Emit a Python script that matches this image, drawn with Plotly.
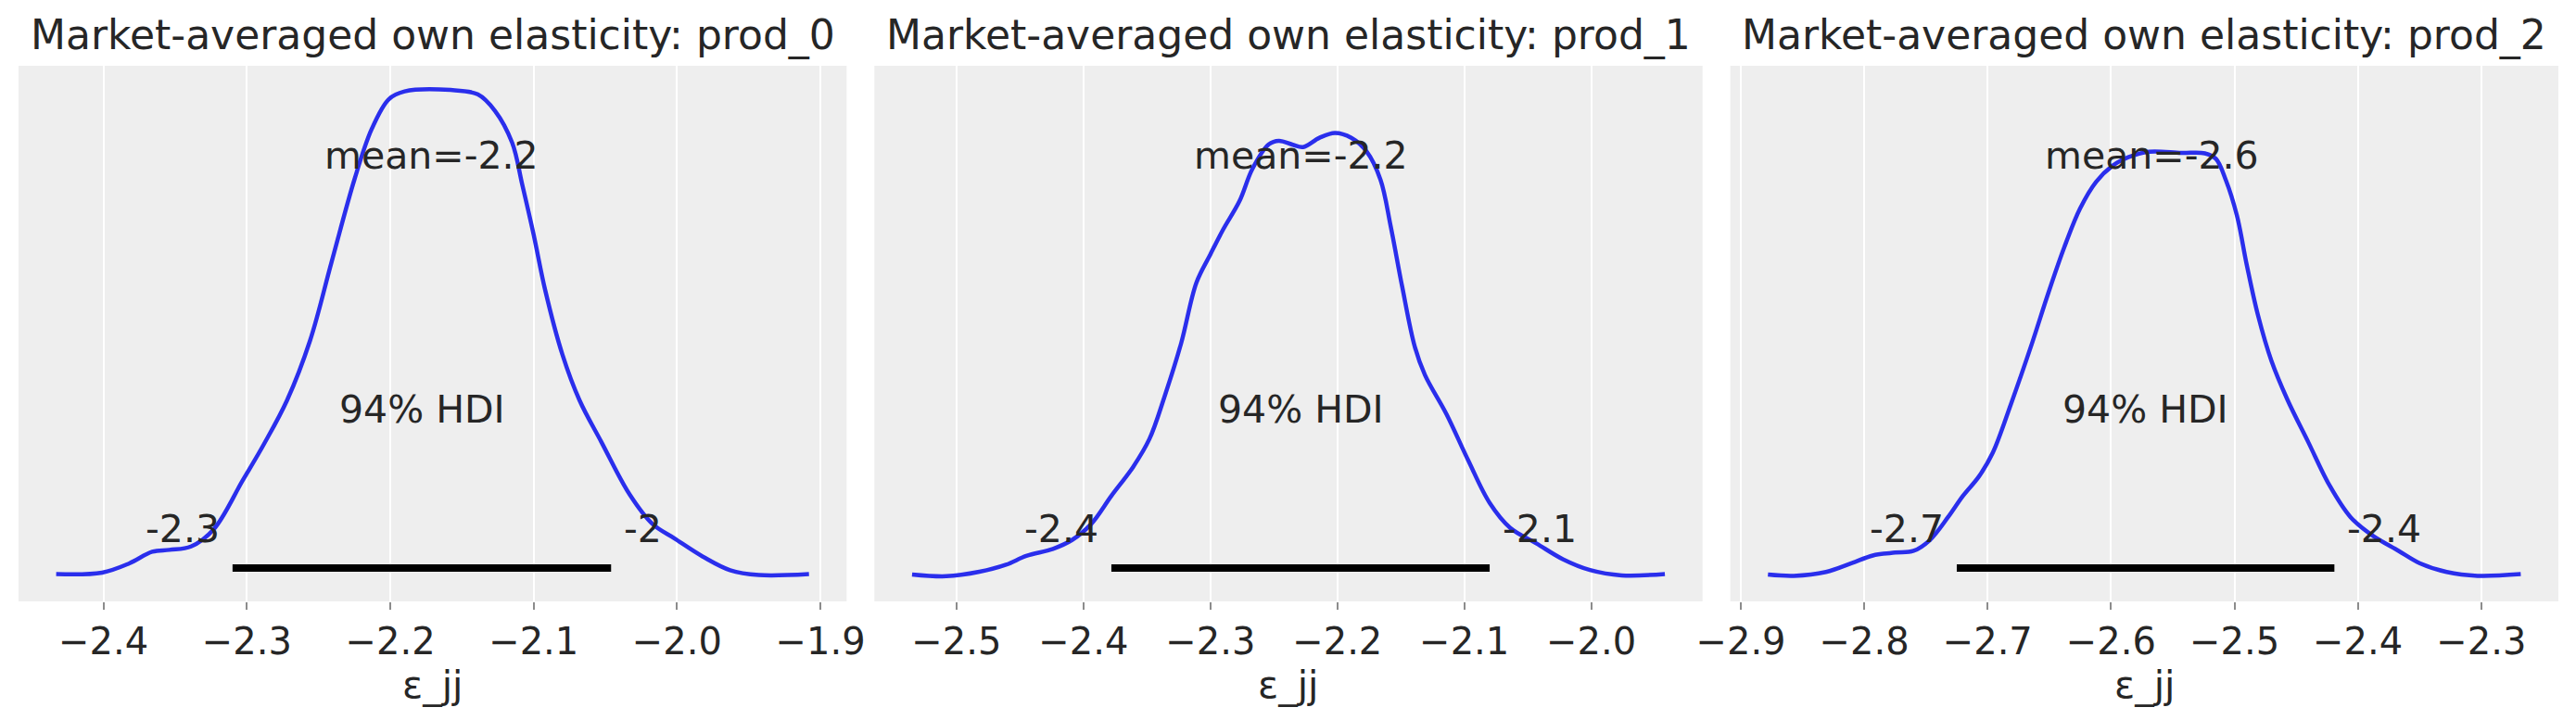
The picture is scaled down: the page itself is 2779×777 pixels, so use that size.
import plotly.graph_objects as go
from plotly.subplots import make_subplots

# posterior KDE of market-averaged own elasticity, relative density
products = ["prod_0", "prod_1", "prod_2"]

eps_0 = [-2.433, -2.401, -2.382, -2.366, -2.354, -2.339, -2.323, -2.303, -2.288, -2.272,
         -2.256, -2.241, -2.225, -2.213, -2.201, -2.190, -2.158, -2.139, -2.127, -2.115,
         -2.108, -2.100, -2.092, -2.080, -2.068, -2.053, -2.033, -2.017, -2.002, -1.982,
         -1.963, -1.943, -1.908]
dens_0 = [0.000, 0.003, 0.022, 0.046, 0.050, 0.057, 0.093, 0.193, 0.269, 0.359,
          0.482, 0.644, 0.815, 0.919, 0.981, 0.997, 1.000, 0.991, 0.957, 0.891,
          0.805, 0.701, 0.587, 0.454, 0.359, 0.274, 0.164, 0.103, 0.074, 0.036,
          0.008, -0.002, 0.000]

eps_1 = [-2.535, -2.508, -2.482, -2.461, -2.445, -2.424, -2.409, -2.394, -2.378, -2.361,
         -2.348, -2.336, -2.323, -2.311, -2.300, -2.290, -2.277, -2.267, -2.254, -2.246,
         -2.235, -2.227, -2.214, -2.202, -2.189, -2.177, -2.166, -2.158, -2.149, -2.139,
         -2.131, -2.114, -2.097, -2.080, -2.064, -2.043, -2.022, -2.001, -1.976, -1.942]
dens_1 = [0.000, -0.004, 0.006, 0.022, 0.042, 0.058, 0.078, 0.114, 0.178, 0.243,
          0.307, 0.404, 0.524, 0.661, 0.725, 0.781, 0.846, 0.918, 0.974, 0.982,
          0.973, 0.968, 0.989, 1.000, 0.989, 0.958, 0.894, 0.789, 0.653, 0.516,
          0.452, 0.363, 0.259, 0.162, 0.106, 0.070, 0.034, 0.010, -0.002, 0.001]

eps_2 = [-2.878, -2.857, -2.831, -2.810, -2.793, -2.775, -2.760, -2.747, -2.732, -2.720,
         -2.707, -2.696, -2.681, -2.664, -2.651, -2.638, -2.625, -2.612, -2.599, -2.586,
         -2.569, -2.543, -2.524, -2.515, -2.507, -2.498, -2.490, -2.481, -2.470, -2.457,
         -2.440, -2.423, -2.406, -2.389, -2.367, -2.350, -2.328, -2.303, -2.268]
dens_2 = [0.000, -0.003, 0.006, 0.027, 0.045, 0.052, 0.056, 0.081, 0.136, 0.186,
          0.232, 0.287, 0.404, 0.547, 0.664, 0.773, 0.866, 0.929, 0.966, 0.987,
          1.000, 0.997, 0.996, 0.983, 0.933, 0.849, 0.732, 0.614, 0.505, 0.413,
          0.312, 0.211, 0.136, 0.094, 0.056, 0.027, 0.006, -0.003, 0.001]

means = [-2.171, -2.229, -2.567]
hdi_low = [-2.310, -2.378, -2.725]
hdi_high = [-2.046, -2.080, -2.419]

eps = [eps_0, eps_1, eps_2]
dens = [dens_0, dens_1, dens_2]
y_ranges = [(-0.0565, 1.050), (-0.061, 1.152), (-0.0635, 1.203)]

blue = "#2a2eec"
text_col = "#262626"
font = "DejaVu Sans"

fig = make_subplots(rows=1, cols=3, horizontal_spacing=30 / 2740)

for i, prod in enumerate(products):
    col = i + 1
    xs, ys = eps[i], dens[i]
    fig.add_trace(go.Scatter(x=xs, y=ys, mode="lines", line=dict(color=blue, width=4.5, shape="spline", smoothing=1.0),
                             showlegend=False, hoverinfo="skip"), row=1, col=col)

    # matplotlib-style 5% padding on x
    pad = 0.05 * (xs[-1] - xs[0])
    fig.update_xaxes(range=[xs[0] - pad, xs[-1] + pad], row=1, col=col)
    fig.update_yaxes(range=list(y_ranges[i]), row=1, col=col)

    xref = "x" if i == 0 else f"x{col}"
    yref = "y domain" if i == 0 else f"y{col} domain"

    # HDI bar
    fig.add_shape(type="line", xref=xref, yref=yref, x0=hdi_low[i], x1=hdi_high[i], y0=0.0623, y1=0.0623,
                  line=dict(color="black", width=8))

    fig.add_annotation(x=means[i], y=0.833, xref=xref, yref=yref, text=f"mean={means[i]:.2g}",
                       showarrow=False, xanchor="center", yanchor="middle")
    fig.add_annotation(x=(hdi_low[i] + hdi_high[i]) / 2, y=0.3587, xref=xref, yref=yref, text="94% HDI",
                       showarrow=False, xanchor="center", yanchor="middle")
    fig.add_annotation(x=hdi_low[i], y=0.1356, xref=xref, yref=yref, text=f"{hdi_low[i]:.2g}",
                       showarrow=False, xanchor="right", yanchor="middle", xshift=-12)
    fig.add_annotation(x=hdi_high[i], y=0.1356, xref=xref, yref=yref, text=f"{hdi_high[i]:.2g}",
                       showarrow=False, xanchor="left", yanchor="middle", xshift=12)

    # subplot title and x label
    xdom = "x domain" if i == 0 else f"x{col} domain"
    fig.add_annotation(x=0.5, y=1.057, xref=xdom, yref="paper", text=f"Market-averaged own elasticity: {prod}",
                       showarrow=False, xanchor="center", yanchor="middle", font=dict(size=44, color=text_col))
    fig.add_annotation(x=0.5, y=-0.1557, xref=xdom, yref="paper", text="ε_jj",
                       showarrow=False, xanchor="center", yanchor="middle", font=dict(size=41, color=text_col))

fig.update_xaxes(dtick=0.1, tickformat=".1f", showgrid=True, gridcolor="white", gridwidth=2,
                 zeroline=False, showline=False, ticks="outside", ticklen=8, tickwidth=2, tickcolor="#8c8c8c",
                 tickfont=dict(size=40, color=text_col), automargin=False)
fig.update_yaxes(showticklabels=False, showgrid=False, zeroline=False, showline=False, ticks="",
                 automargin=False)

# the page body adds an 8px offset, so the figure is a bit smaller and shifted
fig.update_layout(
    width=2771,
    height=761,
    margin=dict(l=12, r=19, t=63, b=120, autoexpand=False),
    plot_bgcolor="#eeeeee",
    paper_bgcolor="white",
    font=dict(family=font, size=41, color=text_col),
)

fig.write_html("out.html")
